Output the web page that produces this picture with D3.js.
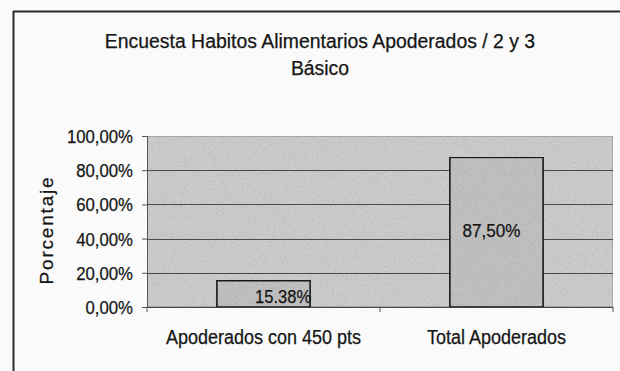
<!DOCTYPE html>
<html>
<head>
<meta charset="utf-8">
<script src="https://cdn.jsdelivr.net/npm/d3@7/dist/d3.min.js"></script>
<style>
  html, body { margin: 0; padding: 0; background: #f9faf9; }
  svg { display: block; }
  text { font-family: "Liberation Sans", Arial, sans-serif; fill: #151515; stroke: #151515; stroke-width: 0.25px; }
</style>
</head>
<body>
<svg id="chart" width="620" height="371"></svg>
<script>
// Survey data
const categories = ["Apoderados con 450 pts", "Total Apoderados"];
const values = [0.1538, 0.875];
const valueLabels = ["15.38%", "87,50%"];
const yTicks = [0, 0.2, 0.4, 0.6, 0.8, 1.0];
const yTickLabels = ["0,00%", "20,00%", "40,00%", "60,00%", "80,00%", "100,00%"];
const titleLines = ["Encuesta Habitos Alimentarios Apoderados / 2 y 3", "Básico"];
const yAxisTitle = "Porcentaje";

const svg = d3.select("#chart");
const W = 620, H = 371;
const plot = { left: 147, right: 613, top: 136, bottom: 307 };

// narrow a text element horizontally, keeping its font height
function condense(sel, factor) {
  sel.each(function () {
    const len = this.getComputedTextLength();
    d3.select(this).attr("textLength", len * factor).attr("lengthAdjust", "spacingAndGlyphs");
  });
}

// paper grain
const defs = svg.append("defs");
const grain = defs.append("filter").attr("id", "grain")
  .attr("x", 0).attr("y", 0).attr("width", "100%").attr("height", "100%");
grain.append("feTurbulence").attr("type", "fractalNoise")
  .attr("baseFrequency", 1.1).attr("numOctaves", 1).attr("seed", 4).attr("result", "noise");
grain.append("feColorMatrix").attr("in", "noise").attr("type", "matrix")
  .attr("values", "0 0 0 0 0  0 0 0 0 0  0 0 0 0 0  0 0 0 -0.5 0.3").attr("result", "dots");
grain.append("feComposite").attr("in", "dots").attr("in2", "SourceGraphic").attr("operator", "in").attr("result", "clipped");
grain.append("feMerge").selectAll("feMergeNode").data(["SourceGraphic", "clipped"]).enter()
  .append("feMergeNode").attr("in", d => d);

// outer chart frame (top and left edges)
svg.append("line").attr("x1", 13).attr("x2", W).attr("y1", 11.5).attr("y2", 11.5)
  .attr("stroke", "#2a2a2a").attr("stroke-width", 2);
svg.append("line").attr("x1", 13.5).attr("x2", 13.5).attr("y1", 11).attr("y2", H)
  .attr("stroke", "#2a2a2a").attr("stroke-width", 2);

// title
const title = svg.append("g").style("font-size", "20px");
title.selectAll("text").data(titleLines).enter().append("text")
  .attr("x", 320).attr("y", (d, i) => 48 + i * 27)
  .attr("text-anchor", "middle").text(d => d)
  .call(condense, 0.97);

// scales
const x = d3.scaleBand().domain(categories)
  .range([plot.left, plot.right]).paddingInner(0.6).paddingOuter(0.3);
const y = d3.scaleLinear().domain([0, 1]).range([plot.bottom, plot.top]);

// plot area background
svg.append("rect")
  .attr("x", plot.left).attr("y", plot.top)
  .attr("width", plot.right - plot.left).attr("height", plot.bottom - plot.top)
  .attr("fill", "#cdcdcd").attr("stroke", "#8a8a8a").attr("stroke-width", 1)
  .attr("filter", "url(#grain)");

// gridlines
svg.append("g").selectAll("line").data(yTicks.filter(t => t > 0 && t < 1)).enter()
  .append("line")
  .attr("x1", plot.left).attr("x2", plot.right)
  .attr("y1", d => Math.round(y(d)) + 0.5).attr("y2", d => Math.round(y(d)) + 0.5)
  .attr("stroke", "#4a4a4a").attr("stroke-width", 1);

// bars
svg.append("g").selectAll("rect").data(values).enter()
  .append("rect")
  .attr("x", (d, i) => x(categories[i]))
  .attr("y", d => y(d))
  .attr("width", x.bandwidth())
  .attr("height", d => y(0) - y(d))
  .attr("fill", "#c2c2c2").attr("stroke", "#1e1e1e").attr("stroke-width", 1.6)
  .attr("filter", "url(#grain)");

// y axis
const yAxis = d3.axisLeft(y).tickValues(yTicks)
  .tickFormat((d, i) => yTickLabels[i]).tickSize(5).tickPadding(9);
const gy = svg.append("g").attr("transform", `translate(${plot.left},0)`).call(yAxis);
gy.attr("font-family", null).attr("font-size", null);
gy.select(".domain").attr("stroke", "#555");
gy.selectAll(".tick line").attr("stroke", "#555");
gy.selectAll(".tick text").style("font-size", "18px").attr("fill", null)
  .attr("dy", "0.36em").call(condense, 0.93);

// x axis with ticks at category boundaries
const xAxis = d3.axisBottom(x).tickSize(0).tickPadding(23);
const gx = svg.append("g").attr("transform", `translate(0,${plot.bottom})`).call(xAxis);
gx.attr("font-family", null).attr("font-size", null);
gx.select(".domain").attr("stroke", "#444");
gx.selectAll(".tick text").style("font-size", "20px").attr("fill", null)
  .call(condense, 0.9);
const bounds = [plot.left].concat(categories.map(c => x(c) + x.bandwidth() + x.step() * x.paddingInner() / 2));
bounds[bounds.length - 1] = plot.right;
gx.selectAll(".bound").data(bounds).enter().append("line").attr("class", "bound")
  .attr("x1", d => d).attr("x2", d => d).attr("y1", 0).attr("y2", 5)
  .attr("stroke", "#555");

// y axis title
svg.append("text")
  .attr("transform", "translate(53,230) rotate(-90)")
  .attr("text-anchor", "middle")
  .style("font-size", "19px").style("letter-spacing", "1.8px")
  .text(yAxisTitle);

// value labels
svg.append("text")
  .attr("x", x(categories[0]) + x.bandwidth() + 1)
  .attr("y", y(0) - 4)
  .attr("text-anchor", "end").style("font-size", "19px")
  .text(valueLabels[0]).call(condense, 0.87);
svg.append("text")
  .attr("x", x(categories[1]) + x.bandwidth() / 2 - 5)
  .attr("y", (y(values[1]) + y(0)) / 2 + 5)
  .attr("text-anchor", "middle").style("font-size", "18px")
  .text(valueLabels[1]).call(condense, 0.95);
</script>
</body>
</html>
